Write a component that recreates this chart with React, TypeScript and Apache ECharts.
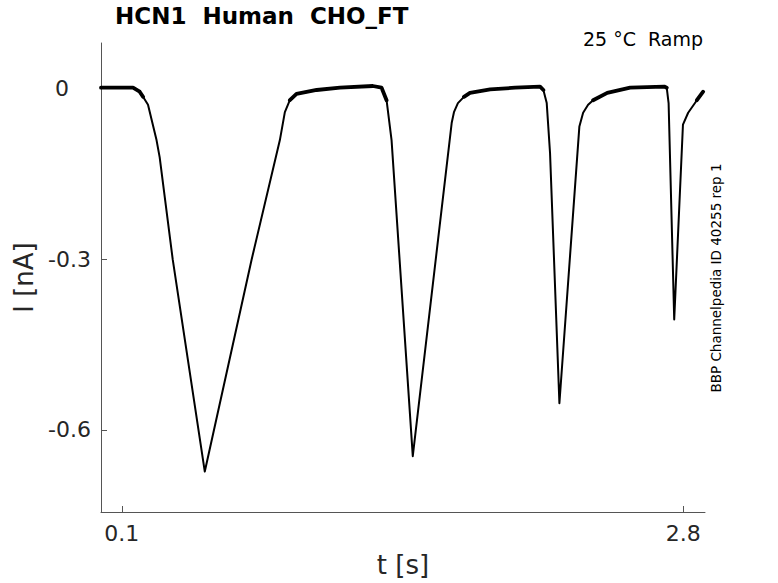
import React, { useEffect, useRef } from "react";
import * as echarts from "echarts";

const timeS: number[] = [
  0.0, 0.09, 0.154, 0.186, 0.202, 0.226, 0.267, 0.282, 0.345, 0.499, 0.724, 0.86,
  0.884, 0.908, 0.94, 1.037, 1.149, 1.307, 1.349, 1.373, 1.397, 1.499, 1.686, 1.697,
  1.716, 1.745, 1.774, 1.871, 1.991, 2.111, 2.127, 2.143, 2.159, 2.204, 2.3, 2.318,
  2.342, 2.366, 2.434, 2.544, 2.708, 2.72, 2.729, 2.756, 2.798, 2.823, 2.865, 2.895,
];
const currentNA: number[] = [
  0.001, 0.001, 0.001, -0.006, -0.015, -0.029, -0.091, -0.121, -0.301, -0.673, -0.301,
  -0.091, -0.042, -0.021, -0.01, -0.003, 0.001, 0.004, 0.001, -0.021, -0.091, -0.646,
  -0.061, -0.042, -0.026, -0.015, -0.008, -0.002, 0.001, 0.003, -0.003, -0.026, -0.114,
  -0.553, -0.067, -0.043, -0.029, -0.021, -0.008, 0.001, 0.003, 0.001, -0.026, -0.406,
  -0.064, -0.043, -0.021, -0.006,
];

const xTicks: number[] = [0.1, 2.8];
const yTicks: number[] = [-0.6, -0.3, 0];

const titleText = "HCN1  Human  CHO_FT";
const conditionText = "25 °C  Ramp";
const sourceText = "BBP Channelpedia ID 40255 rep 1";

const FONT = "DejaVu Sans";

export default function App() {
  const ref = useRef<HTMLDivElement>(null);
  useEffect(() => {
    if (!ref.current) return;
    const chart = echarts.init(ref.current, null, { renderer: "svg" });
    const trace = timeS.map((t, i) => [t, currentNA[i]]);
    // resting plateaus carry a visible noise band: drawn as a thicker stroke
    const plateau = timeS.map((t, i) => [t, currentNA[i] > -0.025 ? currentNA[i] : null]);
    chart.setOption({
      animation: false,
      backgroundColor: "#ffffff",
      textStyle: { fontFamily: FONT },
      grid: { left: 101, right: 73, top: 43, bottom: 71, containLabel: false },
      xAxis: {
        type: "value",
        min: 0,
        max: 2.904,
        name: "t [s]",
        nameLocation: "middle",
        nameGap: 40,
        nameTextStyle: { fontSize: 26, color: "#262626", fontFamily: FONT },
        axisLine: { show: true, onZero: false, lineStyle: { color: "#555555", width: 1 } },
        axisTick: { show: true, inside: true, length: 6, customValues: xTicks, lineStyle: { color: "#555555" } },
        axisLabel: {
          customValues: xTicks,
          fontSize: 22,
          color: "#262626",
          margin: 10,
          fontFamily: FONT,
          formatter: (v: number) => String(v),
        },
        splitLine: { show: false },
      },
      yAxis: {
        type: "value",
        min: -0.744,
        max: 0.0795,
        name: "I [nA]",
        nameLocation: "middle",
        nameGap: 47,
        nameTextStyle: { fontSize: 26, color: "#262626", fontFamily: FONT },
        axisLine: { show: true, onZero: false, lineStyle: { color: "#555555", width: 1 } },
        axisTick: { show: true, inside: true, length: 6, customValues: yTicks, lineStyle: { color: "#555555" } },
        axisLabel: {
          customValues: yTicks,
          fontSize: 22,
          color: "#262626",
          margin: 10,
          fontFamily: FONT,
          formatter: (v: number) => (v === 0 ? "{z|0}" : String(v)),
          rich: { z: { fontSize: 22, color: "#262626", fontFamily: FONT, padding: [0, 22, 0, 0] } },
        },
        splitLine: { show: false },
      },
      graphic: [
        {
          type: "text",
          left: 115,
          top: 4,
          style: { text: titleText, font: `bold 23px "${FONT}"`, fill: "#000000" },
        },
        {
          type: "text",
          right: 75,
          top: 29,
          style: { text: conditionText, font: `19px "${FONT}"`, fill: "#000000" },
        },
        {
          type: "text",
          x: 716,
          y: 278,
          rotation: Math.PI / 2,
          style: {
            text: sourceText,
            font: `13.5px "${FONT}"`,
            fill: "#000000",
            align: "center",
            verticalAlign: "middle",
          },
        },
      ],
      series: [
        {
          type: "line",
          data: trace,
          showSymbol: false,
          symbol: "none",
          lineStyle: { color: "#000000", width: 2, join: "round", cap: "round" },
          z: 3,
        },
        {
          type: "line",
          data: plateau,
          showSymbol: false,
          symbol: "none",
          connectNulls: false,
          lineStyle: { color: "#000000", width: 3.8, join: "round", cap: "round" },
          z: 2,
        },
      ],
    });
    return () => chart.dispose();
  }, []);
  return (
    <div
      ref={ref}
      style={{ position: "fixed", left: 0, top: 0, width: 778, height: 583, background: "#fff" }}
    />
  );
}
